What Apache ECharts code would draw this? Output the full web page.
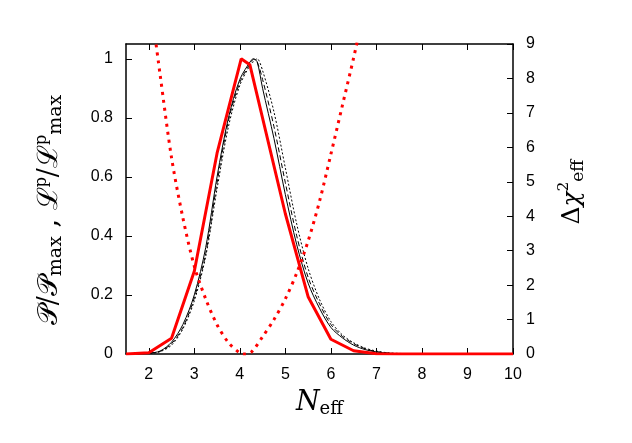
<!DOCTYPE html>
<html>
<head>
<meta charset="utf-8">
<script src="https://cdn.jsdelivr.net/npm/echarts@6/dist/echarts.min.js"></script>
<style>
  html, body { margin: 0; padding: 0; background: #fff; }
  #chart { width: 632px; height: 443px; }
</style>
</head>
<body>
<div id="chart"></div>
<script>
// ---------------- data ----------------
const xTicks = [2, 3, 4, 5, 6, 7, 8, 9, 10];
const yTicks = [0, 0.2, 0.4, 0.6, 0.8, 1];

// red solid: P / P_max
const redN = [1.5, 2, 2.5, 3, 3.5, 4.03, 4.22, 5, 5.5, 6, 6.5, 7, 7.5, 8, 9, 10];
const redP = [0, 0.004, 0.053, 0.28, 0.68, 1.0, 0.98, 0.475, 0.194, 0.05, 0.011, 0.001, 0, 0, 0, 0];

// red dotted: delta chi2 (right axis)
const chiN = [2.0, 2.25, 2.5, 2.75, 3.0, 3.25, 3.5, 3.75, 4.0, 4.1, 4.25, 4.5, 4.75, 5.0, 5.25, 5.5, 5.75, 6.0, 6.25, 6.5, 6.75];
const chiV = [10.6, 8.1, 5.7, 3.95, 2.55, 1.6, 0.85, 0.33, 0.03, 0, 0.05, 0.5, 1.0, 1.6, 2.35, 3.28, 4.43, 5.8, 7.2, 8.6, 10.1];

// black curves: L^p / L^p_max
const blkN = [1.5, 2, 2.25, 2.5, 2.75, 3, 3.25, 3.5, 3.75, 4, 4.25, 4.3, 4.38, 4.5, 4.75, 5, 5.25, 5.5, 5.75, 6, 6.25, 6.5, 6.75, 7, 7.25, 7.5, 8, 10];
const blkSolid  = [0, 0.003, 0.01, 0.04, 0.1, 0.2, 0.36, 0.6, 0.8, 0.93, 0.995, 1.0, 0.99, 0.9, 0.73, 0.54, 0.37, 0.24, 0.155, 0.09, 0.055, 0.03, 0.015, 0.007, 0.003, 0.001, 0, 0];
const blkDashed = [0, 0.003, 0.009, 0.035, 0.09, 0.19, 0.34, 0.58, 0.79, 0.92, 0.99, 0.998, 0.99, 0.93, 0.77, 0.58, 0.4, 0.26, 0.17, 0.1, 0.06, 0.035, 0.018, 0.008, 0.003, 0.001, 0, 0];
const blkDotted = [0, 0.002, 0.008, 0.03, 0.085, 0.18, 0.33, 0.56, 0.77, 0.91, 0.985, 0.99, 1.0, 0.96, 0.82, 0.63, 0.44, 0.29, 0.185, 0.11, 0.065, 0.038, 0.02, 0.01, 0.004, 0.002, 0, 0];

const pairs = (xs, ys) => xs.map((x, i) => [x, ys[i]]);

const tickFont = { fontFamily: 'Liberation Sans', fontSize: 16, color: '#000' };
const mathFont = 'DejaVu Serif';
const frame = { show: true, onZero: false, lineStyle: { color: '#000', width: 1.5 } };
const ticks = { show: true, inside: true, length: 6, lineStyle: { color: '#000' } };

var myChart = echarts.init(document.getElementById('chart'));

myChart.setOption({
  animation: false,
  grid: { left: 126, right: 119, top: 44, bottom: 89 },
  xAxis: [
    {
      type: 'value', min: 1.5, max: 10,
      axisLine: frame,
      axisTick: Object.assign({ customValues: xTicks }, ticks),
      axisLabel: Object.assign({ customValues: xTicks, margin: 13 }, tickFont),
      splitLine: { show: false },
      name: '{n|N}{s|eff}',
      nameLocation: 'middle', nameGap: 34,
      nameTextStyle: {
        rich: {
          n: { fontFamily: mathFont, fontStyle: 'italic', fontSize: 27, lineHeight: 30, verticalAlign: 'middle' },
          s: { fontFamily: mathFont, fontSize: 18, lineHeight: 14, verticalAlign: 'bottom' }
        }
      }
    },
    {
      type: 'value', min: 1.5, max: 10, position: 'top',
      axisLine: frame,
      axisTick: Object.assign({ customValues: xTicks }, ticks),
      axisLabel: { show: false },
      splitLine: { show: false }
    }
  ],
  yAxis: [
    {
      type: 'value', min: 0, max: 1.05,
      axisLine: frame,
      axisTick: Object.assign({ customValues: yTicks }, ticks),
      axisLabel: Object.assign({ customValues: yTicks, margin: 13, formatter: v => String(+v.toFixed(1)) }, tickFont),
      splitLine: { show: false },
      name: '{a|𝒫}{b|/}{a|𝒫}{s|max}{b| , }{a|ℒ}{p|p}{b|/}{a|ℒ}{p|p}{s|max}',
      nameLocation: 'middle', nameGap: 60, nameRotate: 90,
      nameTextStyle: {
        padding: [0, 22, 0, 0],
        rich: {
          a: { fontFamily: mathFont, fontSize: 28, lineHeight: 32, verticalAlign: 'middle' },
          b: { fontFamily: mathFont, fontSize: 27, lineHeight: 32, verticalAlign: 'middle' },
          s: { fontFamily: mathFont, fontSize: 19, lineHeight: 15, verticalAlign: 'bottom' },
          p: { fontFamily: mathFont, fontSize: 16, lineHeight: 15, verticalAlign: 'top' }
        }
      }
    },
    {
      type: 'value', min: 0, max: 9, interval: 1,
      axisLine: frame,
      axisTick: ticks,
      axisLabel: Object.assign({ margin: 13 }, tickFont),
      splitLine: { show: false },
      name: '{d|Δ}{a|χ}{p|2}{s|eff}',
      nameLocation: 'middle', nameGap: 44, nameRotate: 90,
      nameTextStyle: {
        padding: [0, 0, 0, 14],
        rich: {
          d: { fontFamily: mathFont, fontSize: 25, lineHeight: 30, verticalAlign: 'middle' },
          a: { fontFamily: mathFont, fontStyle: 'italic', fontSize: 25, lineHeight: 30, verticalAlign: 'middle' },
          s: { fontFamily: mathFont, fontSize: 17, lineHeight: 14, verticalAlign: 'bottom' },
          p: { fontFamily: mathFont, fontSize: 15, lineHeight: 14, verticalAlign: 'top' }
        }
      }
    }
  ],
  series: [
    {
      name: 'dotted black', type: 'line', data: pairs(blkN, blkDotted), smooth: 0.3,
      showSymbol: false, lineStyle: { color: '#000', width: 1, type: [2, 2] }
    },
    {
      name: 'dashed black', type: 'line', data: pairs(blkN, blkDashed), smooth: 0.3,
      showSymbol: false, lineStyle: { color: '#000', width: 1, type: [5, 3] }
    },
    {
      name: 'solid black', type: 'line', data: pairs(blkN, blkSolid), smooth: 0.3,
      showSymbol: false, lineStyle: { color: '#000', width: 1 }
    },
    {
      name: 'chi2', type: 'line', yAxisIndex: 1, data: pairs(chiN, chiV), smooth: 0.3,
      showSymbol: false, clip: true, lineStyle: { color: '#ff0000', width: 3, type: [3, 5] }
    },
    {
      name: 'P', type: 'line', data: pairs(redN, redP),
      showSymbol: false, lineStyle: { color: '#ff0000', width: 3 }
    }
  ]
});
</script>
</body>
</html>
